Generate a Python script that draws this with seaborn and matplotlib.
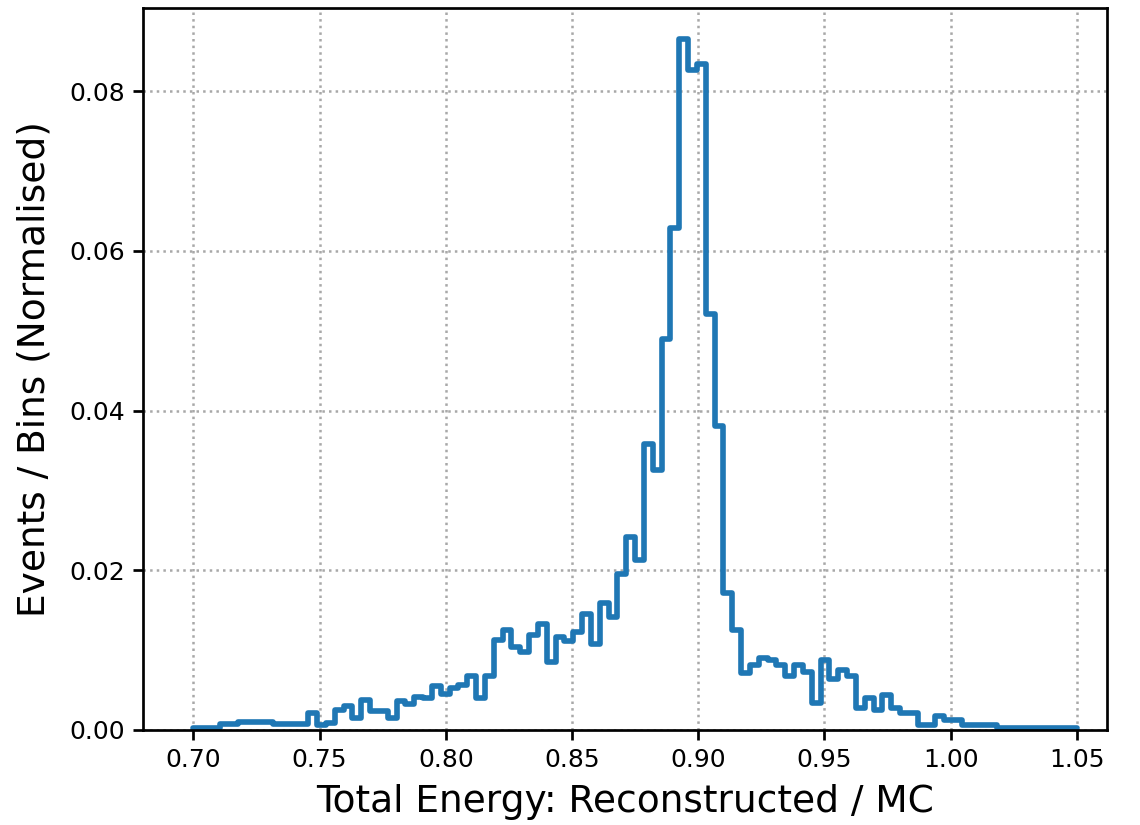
import numpy as np
import pandas as pd
import matplotlib
matplotlib.use("Agg")
import matplotlib.pyplot as plt
import seaborn as sns

# Histogram binning of the energy ratio
bin_lo, bin_hi, n_bins = 0.70, 1.05, 100

# Normalised content of each bin (sums to ~1)
bin_values = [
    0.0003, 0.0003, 0.0003, 0.0007, 0.0007, 0.0010, 0.0010, 0.0010, 0.0010, 0.0008,
    0.0008, 0.0008, 0.0008, 0.0021, 0.0006, 0.0009, 0.0025, 0.0030, 0.0015, 0.0037,
    0.0024, 0.0024, 0.0015, 0.0036, 0.0033, 0.0041, 0.0040, 0.0055, 0.0045, 0.0052,
    0.0056, 0.0067, 0.0040, 0.0067, 0.0113, 0.0125, 0.0104, 0.0098, 0.0119, 0.0133,
    0.0085, 0.0117, 0.0112, 0.0123, 0.0145, 0.0108, 0.0159, 0.0142, 0.0195, 0.0242,
    0.0213, 0.0358, 0.0326, 0.0490, 0.0628, 0.0865, 0.0826, 0.0834, 0.0521, 0.0380,
    0.0172, 0.0125, 0.0071, 0.0081, 0.0090, 0.0087, 0.0081, 0.0067, 0.0081, 0.0072,
    0.0034, 0.0087, 0.0064, 0.0075, 0.0067, 0.0027, 0.0040, 0.0025, 0.0044, 0.0027,
    0.0021, 0.0021, 0.0006, 0.0006, 0.0018, 0.0012, 0.0012, 0.0006, 0.0006, 0.0006,
    0.0006, 0.0003, 0.0003, 0.0003, 0.0003, 0.0003, 0.0003, 0.0003, 0.0003, 0.0003,
]

x_ticks = [0.70, 0.75, 0.80, 0.85, 0.90, 0.95, 1.00, 1.05]
y_ticks = [0.00, 0.02, 0.04, 0.06, 0.08]

x_label = "Total Energy: Reconstructed / MC"
y_label = "Events / Bins (Normalised)"

edges = np.linspace(bin_lo, bin_hi, n_bins + 1)
centers = 0.5 * (edges[:-1] + edges[1:])
hist_df = pd.DataFrame({"ratio": centers, "weight": bin_values})

sns.set_style("ticks")
plt.rcParams["font.family"] = ["DejaVu Sans"]
plt.rcParams["text.color"] = "black"
plt.rcParams["axes.labelcolor"] = "black"
plt.rcParams["xtick.color"] = "black"
plt.rcParams["ytick.color"] = "black"

fig = plt.figure(figsize=(7.6, 5.5), dpi=150)
ax = fig.add_axes([0.1254, 0.1152, 0.8457, 0.8751])

sns.histplot(
    data=hist_df, x="ratio", weights="weight",
    bins=n_bins, binrange=(bin_lo, bin_hi),
    element="step", fill=False, stat="count",
    color="#1f77b4", linewidth=2.7, ax=ax,
)

ax.set_xlim(0.6800, 1.0620)
ax.set_ylim(0.0, 0.0904)
ax.set_xticks(x_ticks)
ax.set_yticks(y_ticks)
ax.set_xticklabels([f"{t:.2f}" for t in x_ticks])
ax.set_yticklabels([f"{t:.2f}" for t in y_ticks])

ax.grid(True, linestyle=":", color="#a8a8a8", linewidth=1.2)
ax.set_axisbelow(True)

for side in ["left", "right", "top", "bottom"]:
    ax.spines[side].set_visible(True)
    ax.spines[side].set_color("black")
    ax.spines[side].set_linewidth(1.3)

ax.tick_params(axis="both", direction="out", length=5, width=1.3,
               labelsize=12, color="black", labelcolor="black")

ax.set_xlabel(x_label, fontsize=18, labelpad=6, color="black")
ax.set_ylabel(y_label, fontsize=18, labelpad=8, color="black")

fig.savefig("out.png", dpi=150, facecolor="white")
